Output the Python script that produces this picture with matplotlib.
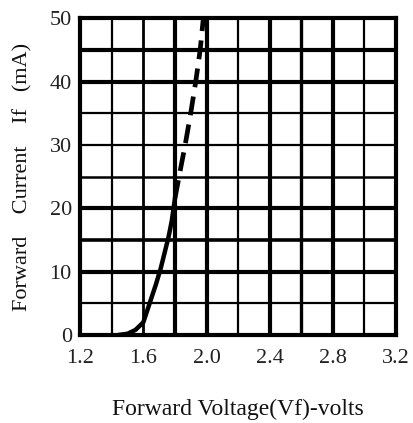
import numpy as np
import matplotlib
matplotlib.use('Agg')
import matplotlib.pyplot as plt

# curva I-V
v_solida = [1.44, 1.50, 1.55, 1.60, 1.64, 1.68, 1.71, 1.74, 1.76, 1.78, 1.80]
i_solida = [0.0, 0.2, 0.8, 2.0, 5.0, 8.0, 10.5, 13.5, 15.5, 18.0, 21.5]
v_guiones = [1.80, 1.83, 1.865, 1.90, 1.932, 1.96, 1.98]
i_guiones = [21.5, 25.5, 30.0, 35.0, 40.0, 45.0, 50.0]

xticks = [1.2, 1.6, 2.0, 2.4, 2.8, 3.2]
yticks = [0, 10, 20, 30, 40, 50]
# grosor de la grilla (escaneo, no todas iguales)
grilla_x = {1.4: 1.6, 1.6: 2.0, 1.8: 3.0, 2.0: 3.0, 2.2: 1.6, 2.4: 3.0, 2.6: 2.4, 2.8: 3.0, 3.0: 1.6}
grilla_y = {5: 1.6, 10: 3.0, 15: 2.6, 20: 3.0, 25: 1.8, 30: 1.6, 35: 1.6, 40: 3.0, 45: 3.0}

plt.rcParams['font.family'] = ['Liberation Serif', 'DejaVu Serif']

fig = plt.figure(figsize=(4.13, 4.23), dpi=100)
ax = fig.add_axes([0.194, 0.208, 0.765, 0.749])

for x, lw in grilla_x.items():
    ax.axvline(x, color='black', lw=lw, zorder=1)
for y, lw in grilla_y.items():
    ax.axhline(y, color='black', lw=lw, zorder=1)

ax.plot(v_solida, i_solida, color='black', lw=3.2, zorder=3, solid_capstyle='butt')
ax.plot(v_guiones, i_guiones, color='black', lw=3.4, zorder=3, dashes=(4, 2))

ax.set_xlim(1.2, 3.2)
ax.set_ylim(0, 50)
ax.set_xticks(xticks)
ax.set_xticklabels(['%.1f' % t for t in xticks])
ax.set_yticks(yticks)
ax.tick_params(length=0, labelsize=16, colors='#222222')
ax.tick_params(axis='x', pad=10)
ax.tick_params(axis='y', pad=6)
for s in ax.spines.values():
    s.set_linewidth(3.0)

ax.set_xlabel('Forward Voltage(Vf)-volts', fontsize=17, labelpad=22, color='#111111')
ax.set_ylabel('Forward    Current    If   (mA)', fontsize=16, labelpad=12, color='#111111')

fig.savefig('out.png', dpi=100)
